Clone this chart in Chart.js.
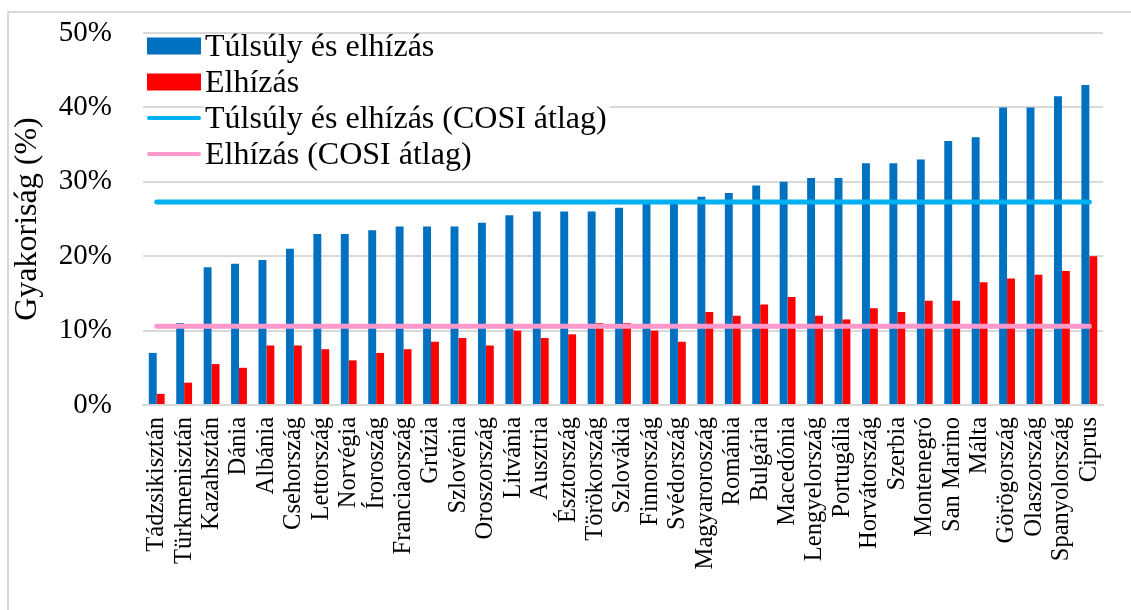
<!DOCTYPE html>
<html lang="hu">
<head>
<meta charset="utf-8">
<title>Túlsúly és elhízás</title>
<script src="https://cdn.jsdelivr.net/npm/chart.js@4.4.1/dist/chart.umd.min.js"></script>
<style>
    html, body { margin: 0; padding: 0; background: #fff; }
    #wrap { position: relative; width: 1131px; height: 610px; overflow: hidden; }
    #frame { position: absolute; left: 7px; top: 11px; width: 1200px; height: 700px; border: 2px solid #d9d9d9; box-sizing: border-box; }
    #wrap canvas { position: absolute; left: 0; top: 0; }
</style>
</head>
<body>
<div id="wrap">
    <div id="frame"></div>
    <canvas id="obesityChart" width="1131" height="610"></canvas>
</div>
<script>
const countries = [
    'Tádzsikisztán', 'Türkmenisztán', 'Kazahsztán', 'Dánia', 'Albánia', 'Csehország', 'Lettország',
    'Norvégia', 'Íroroszág', 'Franciaország', 'Grúzia', 'Szlovénia', 'Oroszország', 'Litvánia',
    'Ausztria', 'Észtország', 'Törökország', 'Szlovákia', 'Finnország', 'Svédország', 'Magyaroroszág',
    'Románia', 'Bulgária', 'Macedónia', 'Lengyelország', 'Portugália', 'Horvátország', 'Szerbia',
    'Montenegró', 'San Marino', 'Málta', 'Görögország', 'Olaszország', 'Spanyolország', 'Ciprus'
];
const overweightValues = [7, 11, 18.5, 19, 19.5, 21, 23, 23, 23.5, 24, 24, 24, 24.5, 25.5, 26, 26, 26, 26.5,
    27, 27, 28, 28.5, 29.5, 30, 30.5, 30.5, 32.5, 32.5, 33, 35.5, 36, 40, 40, 41.5, 43];
const obesityValues = [1.5, 3, 5.5, 5, 8, 8, 7.5, 6, 7, 7.5, 8.5, 9, 8, 10, 9, 9.5, 11, 11,
    10, 8.5, 12.5, 12, 13.5, 14.5, 12, 11.5, 13, 12.5, 14, 14, 16.5, 17, 17.5, 18, 20];
const overweightAverage = 27.3;
const obesityAverage = 10.6;
const yTicks = [0, 10, 20, 30, 40, 50];

const serif = '"Liberation Serif", "Times New Roman", serif';

// legend drawn as a vertical list inside the plot, like the Excel original
const sideLegend = {
    id: 'sideLegend',
    afterDraw(chart) {
        const ctx = chart.ctx;
        const items = chart.data.datasets;
        const x0 = 147, swW = 54, textX = 205, top = 46, step = 36;
        ctx.save();
        ctx.font = '32px ' + serif;
        const widest = Math.max(...items.map(d => ctx.measureText(d.label).width));
        ctx.fillStyle = '#fff';
        ctx.fillRect(textX - 1, top - 9, widest + 4, step * items.length - 10);
        items.forEach((d, i) => {
            const cy = top + i * step;
            if (d.type === 'line') {
                ctx.strokeStyle = d.borderColor;
                ctx.lineWidth = 4;
                ctx.lineCap = 'round';
                ctx.beginPath();
                ctx.moveTo(x0 + 2, cy);
                ctx.lineTo(x0 + swW - 2, cy);
                ctx.stroke();
            } else {
                ctx.fillStyle = d.backgroundColor;
                ctx.fillRect(x0, cy - 8.5, swW, 17);
            }
            ctx.fillStyle = '#000';
            ctx.textBaseline = 'alphabetic';
            ctx.textAlign = 'left';
            ctx.fillText(d.label, textX, cy + 10);
        });
        ctx.restore();
    }
};

new Chart(document.getElementById('obesityChart'), {
    type: 'bar',
    data: {
        labels: countries,
        datasets: [{
            label: 'Túlsúly és elhízás',
            data: overweightValues,
            backgroundColor: '#0070C0',
            categoryPercentage: 0.577,
            barPercentage: 1,
            order: 2
        }, {
            label: 'Elhízás',
            data: obesityValues,
            backgroundColor: '#FF0000',
            categoryPercentage: 0.577,
            barPercentage: 1,
            order: 2
        }, {
            type: 'line',
            label: 'Túlsúly és elhízás (COSI átlag)',
            data: countries.map(() => overweightAverage),
            borderColor: '#00B0F0',
            borderWidth: 5,
            borderCapStyle: 'round',
            pointRadius: 0,
            order: 1
        }, {
            type: 'line',
            label: 'Elhízás (COSI átlag)',
            data: countries.map(() => obesityAverage),
            borderColor: '#FF99CC',
            borderWidth: 5,
            borderCapStyle: 'round',
            pointRadius: 0,
            order: 0
        }]
    },
    options: {
        responsive: false,
        animation: false,
        layout: { padding: { left: 0, top: 33, right: 18, bottom: 0 } },
        plugins: {
            legend: { display: false },
            tooltip: { enabled: false }
        },
        scales: {
            x: {
                afterFit: scale => { scale.height = 205; },
                grid: { display: false, drawTicks: false },
                border: { color: '#d9d9d9', width: 2 },
                ticks: {
                    autoSkip: false,
                    minRotation: 90,
                    maxRotation: 90,
                    padding: 12,
                    color: '#000',
                    font: { family: serif, size: 24.5 }
                }
            },
            y: {
                min: 0,
                max: 50,
                afterFit: scale => {
                    scale.width = 143;
                    scale.paddingTop = 0;
                    scale.paddingBottom = 0;
                },
                afterBuildTicks: scale => { scale.ticks = yTicks.map(v => ({ value: v })); },
                grid: { color: '#d9d9d9', lineWidth: 2, drawTicks: false },
                border: { display: false },
                ticks: {
                    padding: 31,
                    color: '#000',
                    font: { family: serif, size: 29 },
                    callback: v => v + '%'
                },
                title: {
                    display: true,
                    text: 'Gyakoriság (%)',
                    color: '#000',
                    padding: { top: 8, bottom: 0 },
                    font: { family: serif, size: 32 }
                }
            }
        }
    },
    plugins: [sideLegend]
});
</script>
</body>
</html>
